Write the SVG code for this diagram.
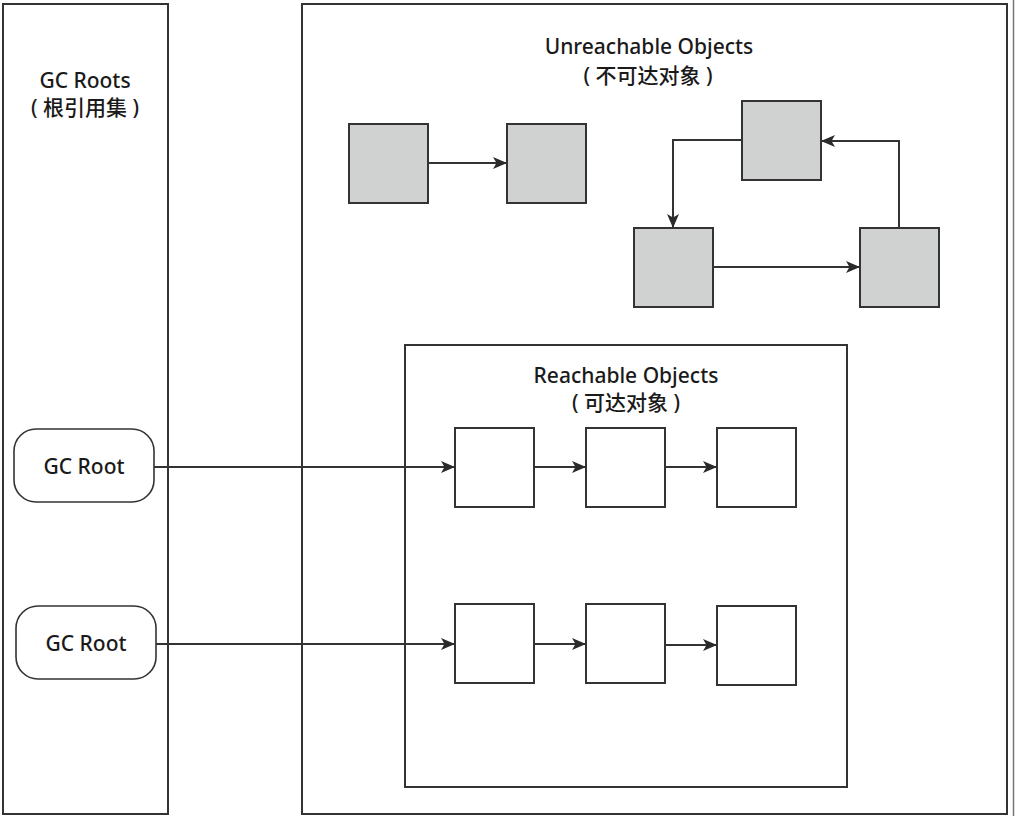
<svg xmlns="http://www.w3.org/2000/svg" width="1015" height="816" viewBox="0 0 1015 816">
<defs>
<style>
.panel{fill:#fff;stroke:#333;stroke-width:2}
.obj{fill:#fff;stroke:#333;stroke-width:2}
.dead{fill:#d0d1d1;stroke:#333;stroke-width:2}
.root{fill:#fff;stroke:#333;stroke-width:1.6}
.edge{fill:none;stroke:#333;stroke-width:2}
text{font-family:"Noto Sans","Noto Sans CJK SC",sans-serif;font-size:21px;font-weight:500;fill:#1a1a1a;text-anchor:middle}
</style>
<marker id="arr" viewBox="0 0 14 12" refX="14" refY="6" markerWidth="14" markerHeight="12" markerUnits="userSpaceOnUse" orient="auto">
<path d="M0,0 L14,6 L0,12 L3.5,6 z" fill="#2a2a2a"/>
</marker>
</defs>
<rect width="1015" height="816" fill="#fff"/>
<line x1="1013.5" y1="0" x2="1013.5" y2="816" stroke="#777" stroke-width="1.5"/>

<g id="gc-roots-panel">
<rect class="panel" x="3" y="4" width="165" height="810"/>
<text x="85" y="88">GC Roots</text>
<text x="85" y="115">( 根引用集 )</text>
</g>

<g id="heap-panel">
<rect class="panel" x="302" y="4" width="705" height="810"/>
<text x="649" y="54">Unreachable Objects</text>
<text x="648" y="83">( 不可达对象 )</text>
</g>

<g id="reachable-panel">
<rect class="panel" x="405" y="345" width="442" height="442"/>
<text x="626" y="383">Reachable Objects</text>
<text x="626" y="410">( 可达对象 )</text>
</g>

<g id="gc-root-1">
<rect class="root" x="14" y="429" width="140" height="73" rx="22"/>
<text x="84" y="474">GC Root</text>
</g>
<g id="gc-root-2">
<rect class="root" x="16" y="606" width="140" height="73" rx="22"/>
<text x="86" y="651">GC Root</text>
</g>

<g id="r1a"><rect class="obj" x="455" y="428" width="79" height="79"/></g>
<g id="r1b"><rect class="obj" x="586" y="428" width="79" height="79"/></g>
<g id="r1c"><rect class="obj" x="717" y="428" width="79" height="79"/></g>
<g id="r2a"><rect class="obj" x="455" y="604" width="79" height="79"/></g>
<g id="r2b"><rect class="obj" x="586" y="604" width="79" height="79"/></g>
<g id="r2c"><rect class="obj" x="717" y="606" width="79" height="79"/></g>

<g id="u1"><rect class="dead" x="349" y="124" width="79" height="79"/></g>
<g id="u2"><rect class="dead" x="507" y="124" width="79" height="79"/></g>
<g id="u3"><rect class="dead" x="742" y="101" width="79" height="79"/></g>
<g id="u4"><rect class="dead" x="634" y="228" width="79" height="79"/></g>
<g id="u5"><rect class="dead" x="860" y="228" width="79" height="79"/></g>

<g id="connectors">
<path class="edge" d="M154,467 H455" marker-end="url(#arr)"/>
<path class="edge" d="M156,644 H455" marker-end="url(#arr)"/>
<path class="edge" d="M534,467 H586" marker-end="url(#arr)"/>
<path class="edge" d="M665,467 H717" marker-end="url(#arr)"/>
<path class="edge" d="M534,644 H586" marker-end="url(#arr)"/>
<path class="edge" d="M665,645 H717" marker-end="url(#arr)"/>
<path class="edge" d="M428,163 H507" marker-end="url(#arr)"/>
<path class="edge" d="M742,140 H673 V228" marker-end="url(#arr)"/>
<path class="edge" d="M899,228 V141 H821" marker-end="url(#arr)"/>
<path class="edge" d="M713,267 H860" marker-end="url(#arr)"/>
</g>
</svg>
